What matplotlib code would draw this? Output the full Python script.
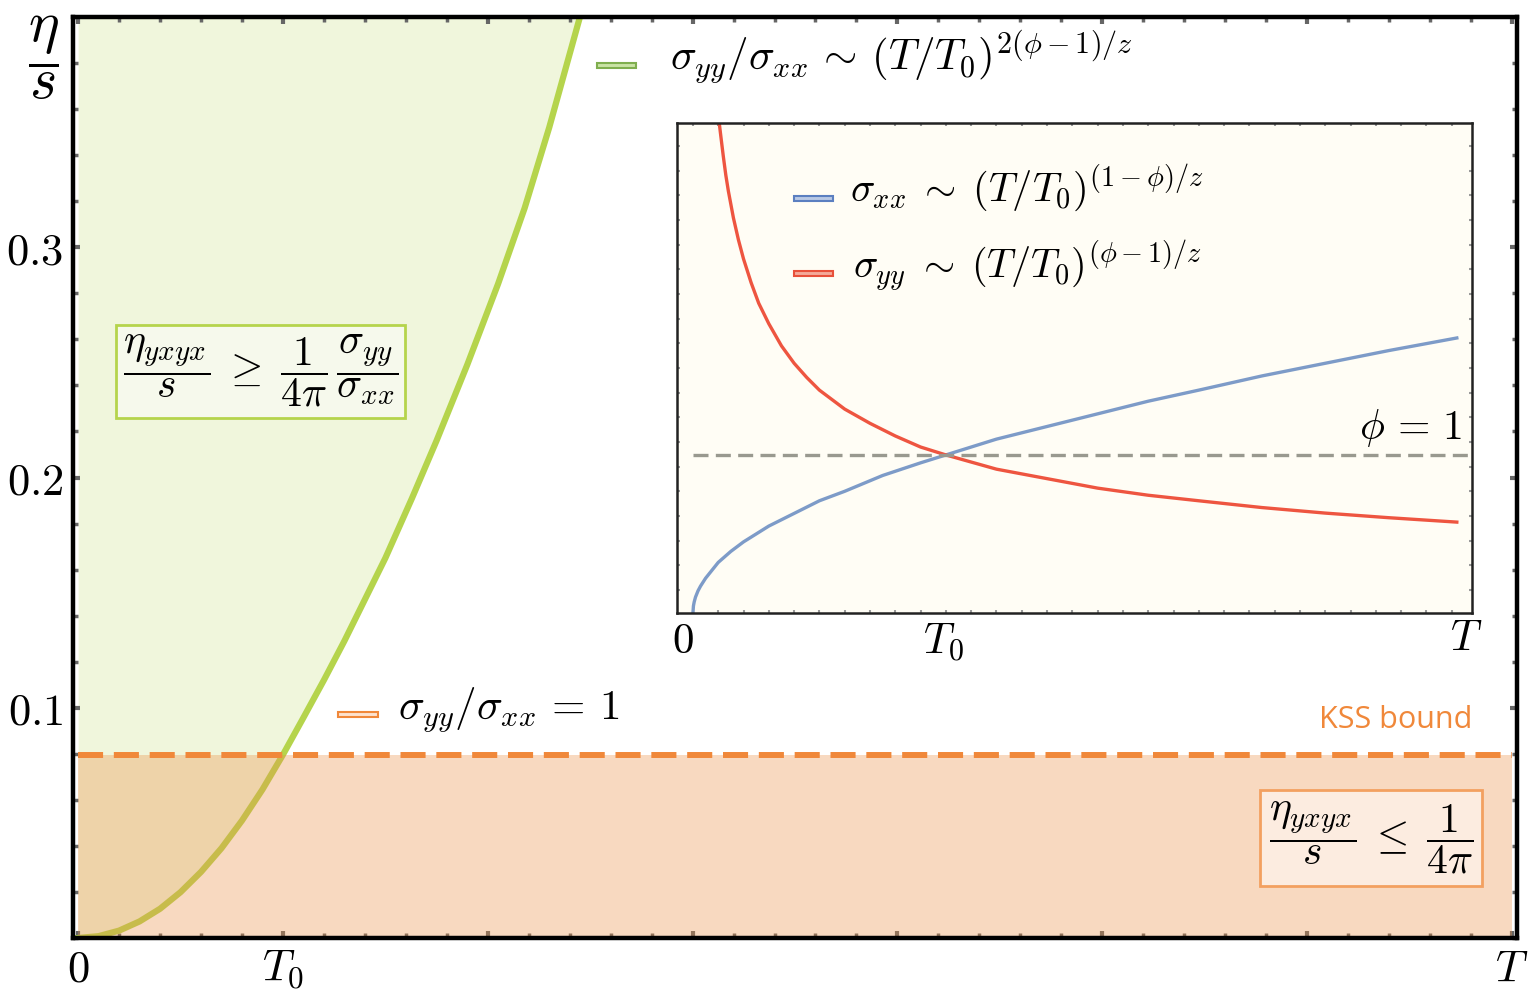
import numpy as np
import matplotlib.pyplot as plt
from matplotlib.patches import Rectangle

plt.rcParams['mathtext.fontset'] = 'cm'
plt.rcParams['font.family'] = ['DejaVu Sans']

W, H = 1535, 996

# --- main panel: eta/s vs T (T in units of T0) ---
T_green = [0.0, 0.1, 0.2, 0.3, 0.4, 0.5, 0.6, 0.7, 0.8, 0.9, 1.0, 1.1, 1.2, 1.3, 1.4,
           1.5, 1.63, 1.75, 1.9, 2.05, 2.18, 2.3, 2.45]
eta_green = [0.0, 0.0008, 0.0032, 0.0072, 0.0127, 0.0199, 0.0287, 0.039, 0.051, 0.0645,
             0.0796, 0.0957, 0.112, 0.129, 0.147, 0.165, 0.191, 0.216, 0.249, 0.284,
             0.317, 0.352, 0.400]
kss = 1 / (4 * np.pi)
T_max = 7.0

# --- inset: sigma_xx and sigma_yy (phi=1 level is 1) ---
T_blue = [0.0, 0.002, 0.005, 0.01, 0.02, 0.03, 0.05, 0.075, 0.1, 0.15, 0.2, 0.3, 0.4, 0.5,
          0.6, 0.75, 0.9, 1.0, 1.2, 1.4, 1.6, 1.8, 2.0, 2.25, 2.5, 2.75, 3.02]
sig_xx = [0.0, 0.045, 0.07, 0.10, 0.14, 0.17, 0.22, 0.27, 0.32, 0.39, 0.45, 0.55, 0.63, 0.71,
          0.77, 0.87, 0.95, 1.0, 1.10, 1.18, 1.26, 1.34, 1.41, 1.50, 1.58, 1.66, 1.74]
T_red = [0.104, 0.11, 0.12, 0.13, 0.14, 0.16, 0.18, 0.20, 0.23, 0.26, 0.30, 0.35, 0.40, 0.45,
         0.50, 0.6, 0.7, 0.8, 0.9, 1.0, 1.2, 1.4, 1.6, 1.8, 2.0, 2.25, 2.5, 2.75, 3.02]
sig_yy = [3.10, 3.02, 2.89, 2.77, 2.67, 2.50, 2.36, 2.24, 2.09, 1.96, 1.83, 1.69, 1.58, 1.49,
          1.41, 1.29, 1.20, 1.12, 1.05, 1.00, 0.91, 0.85, 0.79, 0.745, 0.71, 0.667, 0.632,
          0.603, 0.575]


def fx(x):
    return x / W


def fy(y):
    return 1 - y / H


def fig_box(x0, y0, x1, y1, fc, ec, lw):
    fig.patches.append(Rectangle((fx(x0), fy(y1)), (x1 - x0) / W, (y1 - y0) / H,
                                 transform=fig.transFigure, fc=fc, ec=ec, lw=lw))


fig = plt.figure(figsize=(W / 100, H / 100), dpi=100)

ax = fig.add_axes([fx(73), fy(938), (1517 - 73) / W, (938 - 17) / H])
ax.fill_between(T_green, eta_green, 0.4, color='#f0f6dc', lw=0, zorder=1)
ax.plot(T_green, eta_green, color='#b5d44c', lw=4.5, zorder=2)
ax.fill_between([0, T_max], 0, kss, color='#eb924b', alpha=0.35, lw=0, zorder=3)
ax.plot([0, T_max], [kss, kss], color='#f0883a', lw=4.3, dashes=(4.2, 1.8), zorder=4)

ax.set_xlim(-0.025, T_max + 0.025)
ax.set_ylim(0, 0.4)
ax.set_xticks(np.arange(0, 7.01, 1.0))
ax.set_xticks(np.arange(0, 7.01, 0.2), minor=True)
ax.set_xticklabels(['$0$', '$T_0$', '', '', '', '', '', '$T$'])
ax.set_yticks([0.1, 0.2, 0.3])
ax.set_yticks(np.arange(0, 0.401, 0.02), minor=True)
ax.set_yticklabels(['$0.1$', '$0.2$', '$0.3$'])
ax.tick_params(which='both', direction='in', top=True, right=True, color='#666666',
               labelsize=32, pad=7)
ax.tick_params(which='major', length=5, width=3)
ax.tick_params(which='minor', length=3.5, width=2.5)
for sp in ax.spines.values():
    sp.set_linewidth(3.2)
    sp.set_zorder(6)

fig.text(fx(43), fy(58), r'$\dfrac{\eta}{s}$', fontsize=42, ha='center', va='center')

# legend-like labels in the main panel
fig_box(597, 63, 636, 68, '#c9e3a4', '#7fae4e', 1.5)
fig.text(fx(670), fy(58), r'$\sigma_{yy}/\sigma_{xx}\,\sim\,(T/T_0)^{2(\phi-1)/z}$',
         fontsize=31, ha='left', va='center')
fig_box(338, 712, 378, 717, '#fde2cf', '#f0883a', 1.5)
fig.text(fx(398), fy(710), r'$\sigma_{yy}/\sigma_{xx}\,=\,1$', fontsize=31, ha='left', va='center')
fig.text(fx(1472), fy(720), 'KSS bound', color='#f0883a', fontsize=22, weight='medium',
         family=['Open Sans', 'DejaVu Sans'], ha='right', va='center')

# boxed inequalities
fig_box(116, 325, 405, 418, '#f6f9ec', '#b5d44c', 2)
fig.text(fx(261), fy(371), r'$\dfrac{\eta_{yxyx}}{s}\;\geq\;\dfrac{1}{4\pi}\,\dfrac{\sigma_{yy}}{\sigma_{xx}}$',
         fontsize=30, ha='center', va='center')
fig_box(1260, 790, 1482, 886, '#fcece0', '#f3a060', 2)
fig.text(fx(1371), fy(838), r'$\dfrac{\eta_{yxyx}}{s}\;\leq\;\dfrac{1}{4\pi}$',
         fontsize=30, ha='center', va='center')

# --- inset ---
axi = fig.add_axes([fx(677), fy(613), (1472 - 677) / W, (613 - 123) / H])
axi.set_facecolor('#fffdf5')
axi.plot(T_blue, sig_xx, color='#7d9bc8', lw=2.4)
axi.plot(T_red, sig_yy, color='#ee5540', lw=2.4)
axi.plot([0, 3.1], [1, 1], color='#99998f', lw=2.4, dashes=(4.5, 2.2))
axi.set_xlim(-0.063, 3.08)
axi.set_ylim(0, 3.10)
axi.set_xticks(np.arange(0, 3.05, 0.1))
axi.set_yticks(np.arange(0.146, 3.1, 0.156))
axi.tick_params(which='both', direction='in', top=True, right=True, color='#999999',
                length=2.5, width=1.5, labelbottom=False, labelleft=False)
for sp in axi.spines.values():
    sp.set_linewidth(1.8)
    sp.set_color('#222222')

fig.text(fx(683), fy(641), '$0$', fontsize=31, ha='center', va='center')
fig.text(fx(943), fy(643), '$T_0$', fontsize=31, ha='center', va='center')
fig.text(fx(1466), fy(638), '$T$', fontsize=31, ha='center', va='center')
fig.text(fx(1462), fy(428), r'$\phi\,=\,1$', fontsize=30, ha='right', va='center')

fig_box(794, 196, 833, 201, '#b9c9e5', '#5b7fc0', 1.5)
fig.text(fx(850), fy(188), r'$\sigma_{xx}\;\sim\;(T/T_0)^{(1-\phi)/z}$', fontsize=29,
         ha='left', va='center')
fig_box(794, 271, 833, 276, '#f4a999', '#e8503a', 1.5)
fig.text(fx(853), fy(266), r'$\sigma_{yy}\;\sim\;(T/T_0)^{(\phi-1)/z}$', fontsize=29,
         ha='left', va='center')

fig.savefig('out.png', dpi=100)
